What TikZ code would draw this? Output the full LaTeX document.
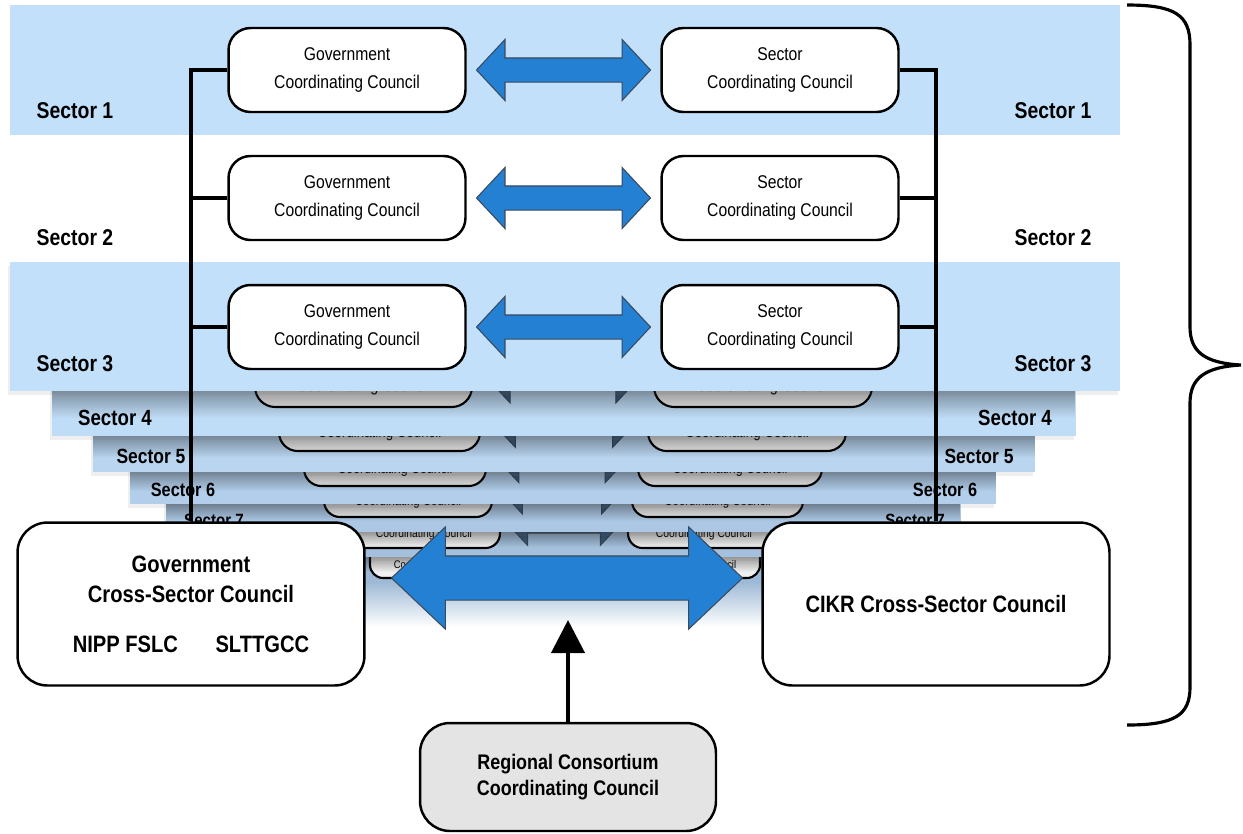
\documentclass[tikz,border=0pt]{standalone}
\usepackage{fontspec}
\setmainfont{Liberation Sans}[FakeStretch=0.85]
\usetikzlibrary{shapes.arrows,shadows,calc,arrows.meta,fadings}
\definecolor{bandblue}{HTML}{C3E0FA}
\definecolor{deepblue}{HTML}{7F9AB8}
\definecolor{arrowblue}{HTML}{2480D2}
\definecolor{arrowline}{HTML}{3A4A5C}
\definecolor{hidblue}{HTML}{3E6184}
\definecolor{regiongray}{HTML}{E4E4E4}
\tikzfading[name=castshadow,top color=transparent!65,bottom color=transparent!100]
\pgfdeclarelayer{front}
\pgfsetlayers{main,front}
\begin{document}
\begin{tikzpicture}[x=0.02cm,y=-0.02cm,
      council/.style={draw,line width=1.4pt,fill=white,rounded corners=0.44cm,
         minimum width=4.74cm,minimum height=1.68cm,align=center,
         font=\fontsize{10.5}{16}\selectfont},
      hidbox/.style={draw,line width=1.2pt,fill=gray!12,align=center,inner sep=0pt},
      crossbox/.style={draw,line width=1.4pt,fill=white,rounded corners=0.6cm,
         minimum width=6.94cm,minimum height=3.26cm,align=center,
         font=\bfseries\fontsize{13.5}{17}\selectfont},
      seclabel/.style={font=\bfseries\fontsize{13}{15}\selectfont},
      fatarrow/.style={double arrow,draw=arrowline,fill=arrowblue,line width=0.6pt,
         inner xsep=0pt},
      band/.style={drop shadow={shadow xshift=-0.05cm,shadow yshift=-0.08cm,opacity=0.12}},
      wire/.style={line width=2.2pt}]
   \useasboundingbox[fill=white] (0,0) rectangle (1243,833);%
      % ~ sector 1 band
      \fill[bandblue] (10,5) rectangle (1120,135);%
      % ~ stacked sectors, back to front
      \foreach \n/\bl/\br/\pb/\bb/\gl/\gr/\sl/\sr/\xb/\s/\p in {%
            9/235/890/557/582/370/505/625/760/578/0.60/45,%
            8/200/925/532/557/348/500/628/780/548/0.66/55,%
            7/166/961/504/532/324/492/632/803/517/0.73/65,%
            6/130/996/472/504/304/486/638/822/486/0.79/75,%
            5/93/1035/436/472/279/480/648/846/451/0.85/85,%
            4/52/1076/391/436/255/472/654/872/407/0.92/95}%
         {%
            \path[band,fill=bandblue!\p!deepblue] (\bl,\bb-130) rectangle (\br,\bb);%
            \ifnum\n=9
               \shade[top color=bandblue!\p!deepblue,bottom color=white]
                  (\bl,\bb) rectangle (\br,\bb+45);%
            \fi
            \pgfmathsetmacro\gw{(\gr-\gl)*0.02}%
            \pgfmathsetmacro\sw{(\sr-\sl)*0.02}%
            \pgfmathsetmacro\bh{70*\s*0.02}%
            \pgfmathsetmacro\rc{0.44*\s}%
            \pgfmathsetmacro\fs{10.5*\s}%
            \pgfmathsetmacro\fl{16*\s}%
            \pgfmathsetmacro\cy{\xb-35*\s}%
            \node[hidbox,rounded corners=\rc cm,minimum width=\gw cm,minimum height=\bh cm,
               font=\fontsize{\fs}{\fl}\selectfont] (g\n) at ({(\gl+\gr)/2},\cy)
               {Government\\Coordinating Council};
            \node[hidbox,rounded corners=\rc cm,minimum width=\sw cm,minimum height=\bh cm,
               font=\fontsize{\fs}{\fl}\selectfont] (s\n) at ({(\sl+\sr)/2},\cy)
               {Sector\\Coordinating Council};
            \pgfmathsetmacro\al{(\sl-\gr-26*\s)*0.02}%
            \node[fatarrow,fill=hidblue,minimum height=\al cm,inner ysep=0.23*\s cm,
               double arrow head extend=0.37*\s cm,double arrow tip angle=94]
               (a\n) at ($(g\n.east)!0.5!(s\n.west)$) {};
            \ifnum\n<8
               \pgfmathsetmacro\ls{12.5-0.8*(\n-4)}%
               \node[font=\bfseries\fontsize{\ls}{\ls}\selectfont] (l\n)
                  at (\bl+63-5*\n+20,\bb-18+2*\n-8) {Sector \n};
               \node[font=\bfseries\fontsize{\ls}{\ls}\selectfont] (r\n)
                  at (\br-61+5*\n-20,\bb-18+2*\n-8) {Sector \n};
            \fi
            % shadow of the sector in front
            \fill[black,path fading=castshadow] (\bl,\pb) rectangle (\br,{\pb+0.6*(\bb-\pb)});%
         }%
      % ~ sector 3 band
      \fill[band,bandblue] (10,262) rectangle (1120,391);%
      % ~ front councils
      \foreach \r/\y/\ly in {1/70/111,2/198/238,3/327/364}%
         {%
            \node[council] (g\r) at (347,\y) {Government\\Coordinating Council};
            \node[council] (s\r) at (780,\y) {Sector\\Coordinating Council};
            \node[fatarrow,minimum height=3.48cm,inner ysep=0.23cm,
               double arrow head extend=0.37cm,double arrow tip angle=94]
               (a\r) at ($(g\r.east)!0.5!(s\r.west)$) {};
            \node[seclabel] (l\r) at (75,\ly) {Sector \r};
            \node[seclabel] (r\r) at (1053,\ly) {Sector \r};
         }%
      % ~ cross-sector councils
      \begin{pgfonlayer}{front}
      \node[crossbox] (gcs) at (191,604)
         {Government\\Cross-Sector Council\\[0.4cm]NIPP FSLC\hspace{0.75cm}SLTTGCC};
      \node[crossbox] (cikr) at (936,604) {CIKR Cross-Sector Council};
      \node[draw,line width=1.4pt,fill=regiongray,rounded corners=0.6cm,
         minimum width=5.92cm,minimum height=2.16cm,align=center,
         font=\bfseries\fontsize{12}{15}\selectfont] (reg) at (568,777)
         {Regional Consortium\\Coordinating Council};
      \end{pgfonlayer}
      % ~ wires
      \draw[wire] (g1.west) -| (gcs.north);%
      \draw[wire] (g2.west) -- (g2.west -| gcs.north);%
      \draw[wire] (g3.west) -- (g3.west -| gcs.north);%
      \draw[wire] (s1.east) -| (cikr.north);%
      \draw[wire] (s2.east) -- (s2.east -| cikr.north);%
      \draw[wire] (s3.east) -- (s3.east -| cikr.north);%
      % ~ big arrow
      \node[fatarrow,minimum height=7.02cm,inner ysep=0.43cm,
         double arrow head extend=0.58cm,double arrow tip angle=87]
         (big) at (567,578) {};
      \coordinate (regtip) at (568,620);
      \draw[line width=2.3pt,-{Triangle[width=0.66cm,length=0.66cm]}] (reg.north) -- (regtip);%
      % ~ brace
      \draw[line width=1.8pt] (1127,5) .. controls (1175,5) and (1190,15) .. (1190,45)
         -- (1190,327) .. controls (1190,352) and (1205,363) .. (1241,365)
         .. controls (1205,367) and (1190,378) .. (1190,403)
         -- (1190,687) .. controls (1190,715) and (1175,725) .. (1127,725);%
   \end{tikzpicture}
\end{document}
